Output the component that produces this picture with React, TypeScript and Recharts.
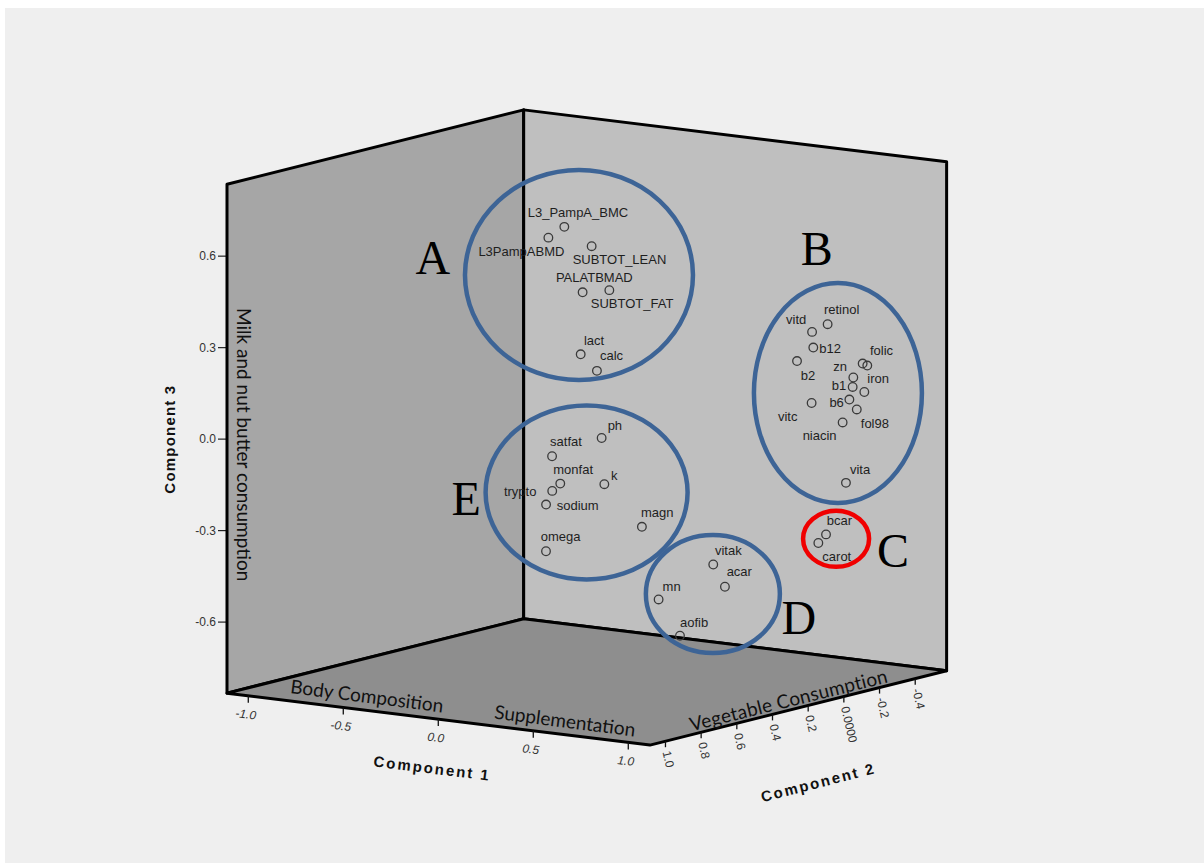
import React from 'react';
import { ScatterChart, Scatter, XAxis, YAxis } from 'recharts';

const W = 1204;
const H = 863;
const SANS = "'Liberation Sans', Arial, sans-serif";
const HUMAN = "Lato, 'Open Sans', sans-serif";
const SERIF = "'Liberation Serif', 'DejaVu Serif', serif";
const BLUE = '#3d6496';

// extent of the box in component space
const C1_RANGE = [-1.112, 1.114];
const C2_RANGE = [-0.576, 1.087];
const C3_RANGE = [-0.833, 0.836];

const C1_TICKS = [-1.0, -0.5, 0.0, 0.5, 1.0];
const C2_TICKS = [1.0, 0.8, 0.6, 0.4, 0.2, 0.0, -0.2, -0.4];
const C2_TICK_LABELS = ['1.0', '0.8', '0.6', '0.4', '0.2', '0.0000', '-0.2', '-0.4'];
const C3_TICKS = [-0.6, -0.3, 0.0, 0.3, 0.6];

// loadings (depth estimated)
const VARIABLES = [
  'L3_PampA_BMC', 'L3PampABMD', 'SUBTOT_LEAN', 'PALATBMAD', 'SUBTOT_FAT', 'lact', 'calc',
  'retinol', 'vitd', 'b12', 'b2', 'folic', '', 'zn', 'b1', 'iron', 'b6', 'fol98', 'vitc', 'niacin', 'vita',
  'bcar', 'carot',
  'vitak', 'acar', 'mn', 'aofib',
  'ph', 'satfat', 'monfat', 'k', 'trypto', 'sodium', 'magn', 'omega',
];
const COMP1 = [
  -0.592, -0.582, -0.420, -0.430, -0.233, -0.534, -0.411,
  0.653, 0.496, 0.540, 0.398, 0.843, 0.781, 0.807, 0.719, 0.818, 0.683, 0.797, 0.456, 0.685, 0.787,
  0.945, 0.867,
  0.558, 0.535, 0.308, 0.336,
  -0.020, -0.187, -0.172, -0.034, -0.158, -0.228, 0.145, -0.172,
];
const COMP2 = [
  -0.25, -0.15, -0.22, -0.18, -0.12, -0.28, -0.24,
  -0.40, -0.48, -0.44, -0.50, -0.42, -0.46, -0.38, -0.47, -0.43, -0.49, -0.41, -0.52, -0.45, -0.36,
  -0.08, -0.12,
  0.14, 0.05, 0.18, 0.09,
  0.15, 0.25, 0.22, 0.12, 0.28, 0.24, 0.10, 0.30,
];
const COMP3 = [
  0.540, 0.520, 0.494, 0.348, 0.379, 0.122, 0.083,
  0.294, 0.245, 0.203, 0.139, 0.170, 0.166, 0.134, 0.083, 0.080, 0.036, 0.024, 0.003, -0.033, -0.210,
  -0.326, -0.366,
  -0.422, -0.510, -0.550, -0.680,
  -0.050, -0.108, -0.201, -0.207, -0.215, -0.271, -0.336, -0.411,
];

// where each label sits relative to its marker (px): [dx to text start, dy to text middle]
const LABEL_OFFSET: Record<string, [number, number]> = {
  L3_PampA_BMC: [-36.6, -14.4], L3PampABMD: [-70, 13.7], SUBTOT_LEAN: [-19, 13.3],
  PALATBMAD: [-26.7, -14.3], SUBTOT_FAT: [-18.6, 13.3], lact: [3.3, -14], calc: [3, -15],
  retinol: [-3.7, -14.7], vitd: [-26, -12.4], b12: [6, 1], b2: [3.7, 14.3], folic: [2.7, -15.3],
  zn: [-20, -10.6], b1: [-21, -1.7], iron: [3, -13.4], b6: [-20, 3.4], fol98: [4, 14],
  vitc: [-33.7, 13.3], niacin: [-40, 13.4], vita: [4, -13.7], bcar: [0.7, -13.6], carot: [4, 14],
  vitak: [1.7, -14.3], acar: [1.7, -15], mn: [4, -12.6], aofib: [0, -13.4],
  ph: [6, -12.7], satfat: [-2, -14.3], monfat: [-7, -14.3], k: [6.7, -9], trypto: [-48.3, 1],
  sodium: [10.7, 0.7], magn: [-1, -14], omega: [-5.3, -14.3],
};

// oblique view: component space -> view plane (u right, v up, in component-3 units at the left edge)
const project = (c1: number, c2: number, c3: number) => ({
  u: (190 * (c1 - C1_RANGE[0]) - 178.4 * (c2 - C2_RANGE[1])) / 305,
  v: c3 - (23.35 * (c1 - C1_RANGE[0]) + 44.7 * (c2 - C2_RANGE[1])) / 305,
});

const [a1, b1] = C1_RANGE;
const [a2, b2] = C2_RANGE;
const [a3, b3] = C3_RANGE;

const WALLS = [
  { key: 'left', fill: '#a6a6a6', corners: [[a1, b2, a3], [a1, b2, b3], [a1, a2, b3], [a1, a2, a3]] },
  { key: 'back', fill: '#bfbfbf', corners: [[a1, a2, a3], [a1, a2, b3], [b1, a2, b3], [b1, a2, a3]] },
  { key: 'floor', fill: '#8e8e8e', corners: [[a1, b2, a3], [a1, a2, a3], [b1, a2, a3], [b1, b2, a3]] },
];

const points = VARIABLES.map((name, i) => ({ name, ...project(COMP1[i], COMP2[i], COMP3[i]) }));
const c1Ticks = C1_TICKS.map(t => ({ label: t.toFixed(1), ...project(t, b2, a3) }));
const c2Ticks = C2_TICKS.map((t, i) => ({ label: C2_TICK_LABELS[i], ...project(b1, t, a3) }));

const TITLES = [
  { text: 'Component 1', at: project(0, b2, a3), dx: -6, dy: 49, angle: 7, size: 15, bold: true, family: SANS, ls: 2 },
  { text: 'Component 2', at: project(b1, 0.15, a3), dx: 1, dy: 79, angle: -14.5, size: 15, bold: true, family: SANS, ls: 2 },
  { text: 'Component 3', at: project(a1, b2, 0.1), dx: -57, dy: 30.5, angle: -90, size: 15, bold: true, family: SANS, ls: 1.2 },
  { text: 'Milk and nut butter consumption', at: project(a1, b2, 0), dx: 17, dy: 5.5, angle: 90, size: 19, bold: false, family: HUMAN, ls: 0 },
  { text: 'Body Composition', at: project(-0.375, b2, a3), dx: 0, dy: -15, angle: 7.3, size: 19, bold: false, family: HUMAN, ls: 0 },
  { text: 'Supplementation', at: project(0.667, b2, a3), dx: 0, dy: -14.6, angle: 7.3, size: 19, bold: false, family: HUMAN, ls: 0 },
  { text: 'Vegetable Consumption', at: project(b1, 0.311, a3), dx: 0, dy: -11, angle: -14, size: 19, bold: false, family: HUMAN, ls: 0.2 },
].map(t => ({ ...t, u: t.at.u, v: t.at.v }));

// hand-drawn groupings on the original figure
const GROUPS = [
  { id: 'A', u: 1.154, v: 0.538, rx: 114, ry: 105, color: BLUE },
  { id: 'B', u: 2.003, v: 0.151, rx: 84, ry: 110, color: BLUE },
  { id: 'C', u: 1.997, v: -0.327, rx: 33, ry: 28, color: '#f00000' },
  { id: 'D', u: 1.593, v: -0.508, rx: 67, ry: 59, color: BLUE },
  { id: 'E', u: 1.179, v: -0.175, rx: 101, ry: 87, color: BLUE },
];
const LETTERS = [
  { id: 'A', u: 0.675, v: 0.541 },
  { id: 'B', u: 1.934, v: 0.571 },
  { id: 'C', u: 2.184, v: -0.419 },
  { id: 'D', u: 1.875, v: -0.639 },
  { id: 'E', u: 0.784, v: -0.249 },
];

const none = () => <g />;

const polygon = (fill: string) => (p: any) => (
  <polygon
    points={p.points.map((q: any) => `${q.x},${q.y}`).join(' ')}
    fill={fill}
    stroke="#000"
    strokeWidth={3}
    strokeLinejoin="round"
  />
);

const PointMark = (p: any) => {
  const off = LABEL_OFFSET[p.payload.name];
  return (
    <g>
      <circle cx={p.cx} cy={p.cy} r={4.3} fill="none" stroke="#3a3a3a" strokeWidth={1.3} />
      {off && p.payload.name && (
        <text x={p.cx + off[0]} y={p.cy + off[1]} dominantBaseline="central" fontSize={13} fontFamily={SANS} fill="#1e1e1e">
          {p.payload.name}
        </text>
      )}
    </g>
  );
};

const C1Tick = (p: any) => {
  const x = p.cx - 2.5;
  const y = p.cy + 18.5;
  return (
    <g>
      <line x1={p.cx} y1={p.cy} x2={p.cx} y2={p.cy + 7} stroke="#111" strokeWidth={1.3} />
      <text x={x} y={y} textAnchor="middle" dominantBaseline="central" fontSize={12} fontFamily={SANS}
        fontStyle="italic" fill="#333" transform={`rotate(7 ${x} ${y})`}>{p.payload.label}</text>
    </g>
  );
};

const C2Tick = (p: any) => {
  const x = p.cx + 1;
  const y = p.cy + 10;
  return (
    <g>
      <line x1={p.cx} y1={p.cy} x2={p.cx} y2={p.cy + 6} stroke="#111" strokeWidth={1.3} />
      <text x={x} y={y} textAnchor="start" dominantBaseline="central" fontSize={12} fontFamily={SANS}
        fill="#333" transform={`rotate(77 ${x} ${y})`}>{p.payload.label}</text>
    </g>
  );
};

const Title = (p: any) => {
  const t = p.payload;
  const x = p.cx + t.dx;
  const y = p.cy + t.dy;
  return (
    <text x={x} y={y} textAnchor="middle" dominantBaseline="central" fontSize={t.size} fontFamily={t.family}
      fontWeight={t.bold ? 'bold' : 'normal'} letterSpacing={t.ls} fill="#111" transform={`rotate(${t.angle} ${x} ${y})`}>
      {t.text}
    </text>
  );
};

const Ring = (p: any) => (
  <ellipse cx={p.cx} cy={p.cy} rx={p.payload.rx} ry={p.payload.ry} fill="none" stroke={p.payload.color} strokeWidth={4.5} />
);

const Letter = (p: any) => (
  <text x={p.cx} y={p.cy} textAnchor="middle" fontSize={48} fontFamily={SERIF} fill="#000">{p.payload.id}</text>
);

export default function App() {
  return (
    <div style={{ position: 'absolute', left: 0, top: 0, width: W, height: H, background: '#fff', overflow: 'hidden' }}>
      <div style={{ position: 'absolute', left: 5, top: 8, right: 0, bottom: 0, background: '#efefef' }} />
      <div style={{ position: 'absolute', left: 0, top: 0 }}>
        <ScatterChart width={W} height={H} margin={{ top: 0, right: 1, bottom: 0, left: 0 }}>
          <XAxis type="number" dataKey="u" domain={[0, 3.2]} hide />
          <YAxis
            type="number"
            dataKey="v"
            domain={[-1.39, 1.44]}
            ticks={C3_TICKS}
            tickFormatter={(t: number) => t.toFixed(1)}
            width={227}
            axisLine={false}
            tickSize={9}
            tickMargin={2}
            tickLine={{ stroke: '#222', strokeWidth: 1.2 }}
            tick={{ fontSize: 12, fill: '#333', fontFamily: SANS }}
          />
          {WALLS.map(w => (
            <Scatter
              key={w.key}
              data={w.corners.map(c => project(c[0], c[1], c[2]))}
              line={polygon(w.fill)}
              shape={none}
              isAnimationActive={false}
            />
          ))}
          <Scatter data={c1Ticks} shape={C1Tick} isAnimationActive={false} />
          <Scatter data={c2Ticks} shape={C2Tick} isAnimationActive={false} />
          <Scatter data={TITLES} shape={Title} isAnimationActive={false} />
          <Scatter data={points} shape={PointMark} isAnimationActive={false} />
          <Scatter data={GROUPS} shape={Ring} isAnimationActive={false} />
          <Scatter data={LETTERS} shape={Letter} isAnimationActive={false} />
        </ScatterChart>
      </div>
    </div>
  );
}
